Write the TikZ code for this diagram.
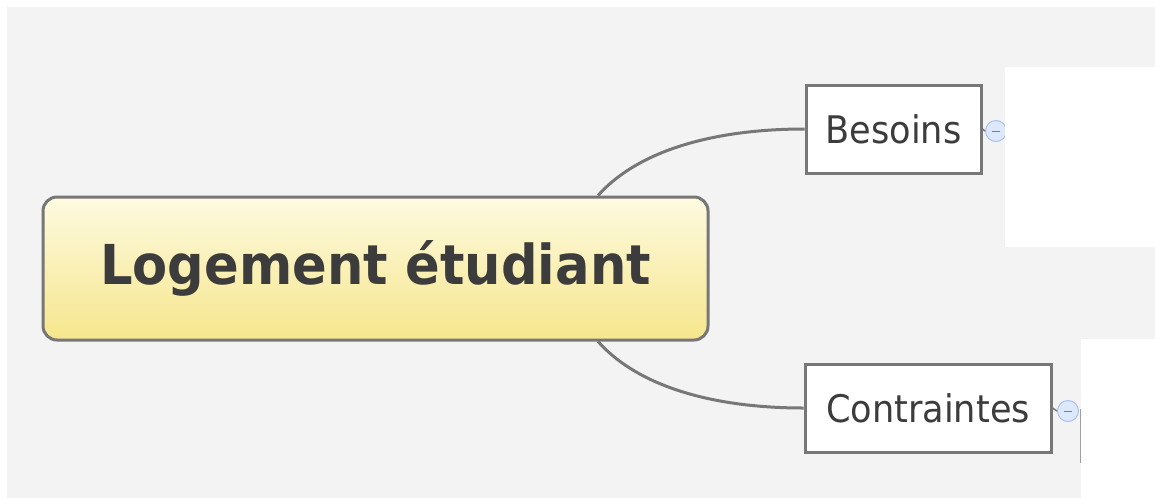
\documentclass[tikz,border=0pt]{standalone}
\usepackage{fontspec}
\usepackage{graphicx}
\setmainfont{DejaVu Sans}
\definecolor{bggray}{HTML}{F3F3F3}
\definecolor{edgegray}{HTML}{777777}
\definecolor{txtdark}{HTML}{3C3C3C}
\definecolor{ytop}{HTML}{FDFAE0}
\definecolor{ybot}{HTML}{F6E68C}
\definecolor{cfill}{HTML}{DDE8FB}
\definecolor{cline}{HTML}{A9C1EC}
\tikzset{
  mainbox/.style={draw=edgegray, line width=3pt, rounded corners=14pt,
    top color=ytop, bottom color=ybot, minimum width=665pt, minimum height=143pt,
    inner sep=0pt, text=txtdark},
  childbox/.style={draw=edgegray, line width=3pt, fill=white, minimum height=88pt,
    inner sep=0pt, text=txtdark},
  conn/.style={draw=edgegray, line width=3pt},
  collapser/.style={circle, draw=cline, fill=cfill, line width=1pt, minimum size=21pt, inner sep=0pt},
}
\begin{document}
\begin{tikzpicture}[x=1pt, y=-1pt]
\useasboundingbox (0,0) rectangle (1155,498);
\fill[white] (0,0) rectangle (1155,498);
\fill[bggray] (7,7) rectangle (1155,498);

\node[mainbox] (main) at (375.5,268.5)
  {\fontsize{55}{60}\selectfont\bfseries\scalebox{0.93}[1]{Logement étudiant}};
\node[childbox, minimum width=175pt] (bes) at (893.5,129)
  {\fontsize{38}{44}\selectfont\scalebox{0.925}[1]{Besoins}};
\node[childbox, minimum width=246pt] (con) at (928,408)
  {\fontsize{38}{44}\selectfont\scalebox{0.925}[1]{Contraintes}};

\coordinate (mtop) at ([xshift=222.5pt]main.north);
\coordinate (mbot) at ([xshift=222.5pt]main.south);
\draw[conn] (mtop) .. controls +(42,-47) and +(-86,0) .. (bes.west);
\draw[conn] (mbot) .. controls +(42,47) and +(-86,0) .. (con.west);

\node[collapser] (cb) at (996,131) {};
\node[collapser] (cc) at (1068,411) {};
\draw[edgegray, line width=1.5pt] (bes.east) -- (cb.west);
\draw[edgegray, line width=1.5pt] (con.east) -- (cc.west);
\draw[cline!60!blue, line width=1pt] ([xshift=-4pt]cb.center) -- ([xshift=4pt]cb.center);
\draw[cline!60!blue, line width=1pt] ([xshift=-4pt]cc.center) -- ([xshift=4pt]cc.center);
\coordinate (sub1) at (1080,409);
\coordinate (sub2) at (1080,463);
\draw[edgegray!70, line width=1pt] (sub1) -- (sub2);

\fill[white] (1005,67) rectangle (1155,247);
\fill[white] (1081,339) rectangle (1155,498);
\end{tikzpicture}
\end{document}
